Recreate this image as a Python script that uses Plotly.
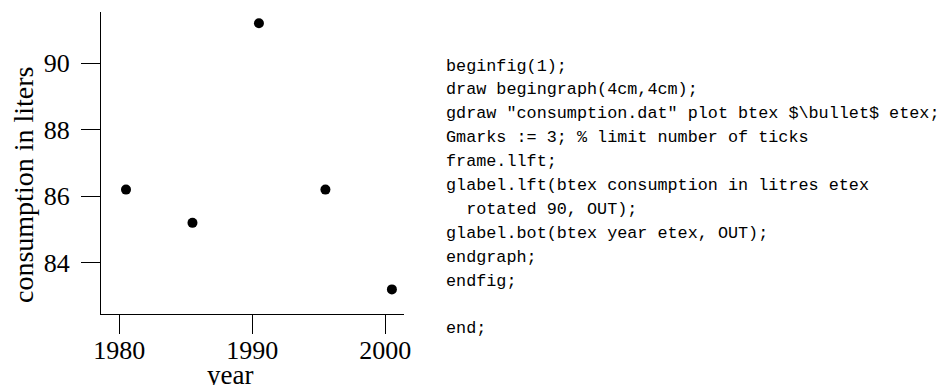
import plotly.graph_objects as go

# Consumption data (consumption.dat)
years = [1980.5, 1985.5, 1990.5, 1995.5, 2000.5]
consumption = [86.2, 85.2, 91.2, 86.2, 83.2]

x_ticks = [1980, 1990, 2000]
y_ticks = [84, 86, 88, 90]

x_title = "year"
y_title = "consumption in liters"

# MetaPost source listed beside the graph
code_lines = [
    "beginfig(1);",
    "draw begingraph(4cm,4cm);",
    'gdraw "consumption.dat" plot btex $\\bullet$ etex;',
    "Gmarks := 3; % limit number of ticks",
    "frame.llft;",
    "glabel.lft(btex consumption in litres etex",
    "  rotated 90, OUT);",
    "glabel.bot(btex year etex, OUT);",
    "endgraph;",
    "endfig;",
    "",
    "end;",
]

W, H = 941, 385
ML, MR, MT, MB = 101, 537, 12, 71
PW, PH = W - ML - MR, H - MT - MB

SERIF = "Liberation Serif, Times New Roman, serif"
MONO = "Liberation Mono, Courier New, monospace"


def px_x(px):
    return (px - ML) / PW


def px_y(py):
    return 1 - (py - MT) / PH


fig = go.Figure(
    go.Scatter(
        x=years,
        y=consumption,
        mode="markers",
        marker=dict(color="black", size=10, line=dict(width=0)),
        hoverinfo="skip",
    )
)

axis_common = dict(
    showline=True,
    linecolor="black",
    linewidth=1,
    ticks="outside",
    ticklen=19,
    tickwidth=1,
    tickcolor="black",
    showgrid=False,
    zeroline=False,
    tickfont=dict(family=SERIF, size=26, color="black"),
)

fig.update_xaxes(
    range=[1978.62, 2001.41],
    tickvals=x_ticks,
    ticktext=[str(v) for v in x_ticks],
    ticklabelstandoff=-6,
    **axis_common,
)
fig.update_yaxes(
    range=[82.46, 91.54],
    tickvals=y_ticks,
    ticktext=[str(v) for v in y_ticks],
    ticklabelstandoff=6,
    **axis_common,
)

annotations = [
    dict(
        text=x_title, xref="paper", yref="paper",
        x=px_x(230), y=px_y(375), xanchor="center", yanchor="middle",
        showarrow=False, font=dict(family=SERIF, size=27, color="black"),
    ),
    dict(
        text=y_title, xref="paper", yref="paper", textangle=-90,
        x=px_x(23), y=px_y(185), xanchor="center", yanchor="middle",
        showarrow=False, font=dict(family=SERIF, size=28, color="black"),
    ),
]

line_y0, line_step = 66, 23.9
for i, line in enumerate(code_lines):
    if not line:
        continue
    stripped = line.lstrip(" ")
    text = "\u00a0" * (len(line) - len(stripped)) + stripped
    annotations.append(
        dict(
            text=text, xref="paper", yref="paper",
            x=px_x(444), y=px_y(line_y0 + i * line_step),
            xanchor="left", yanchor="middle", showarrow=False,
            font=dict(family=MONO, size=16.8, color="black"),
        )
    )

fig.update_layout(
    width=W,
    height=H,
    margin=dict(l=ML, r=MR, t=MT, b=MB, pad=0),
    paper_bgcolor="white",
    plot_bgcolor="white",
    showlegend=False,
    annotations=annotations,
)

fig.write_html("out.html")
